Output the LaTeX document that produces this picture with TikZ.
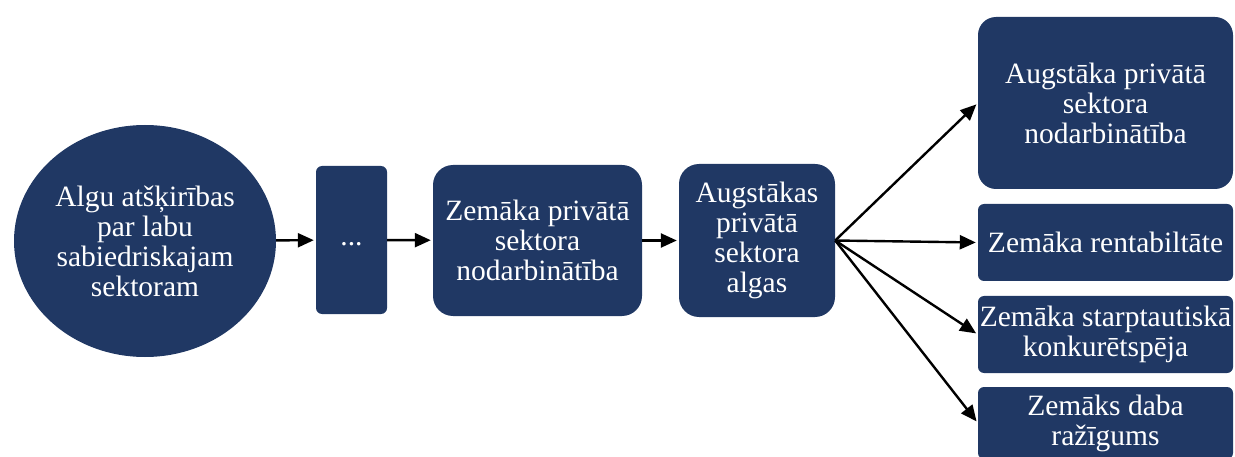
\documentclass[tikz,border=0pt]{standalone}
\usepackage{fontspec}
\setmainfont{Liberation Serif}
\usetikzlibrary{arrows.meta,shapes.geometric}
\definecolor{navy}{RGB}{32,56,100}
\begin{document}
\begin{tikzpicture}[x=1pt,y=-1pt,
  txt/.style={text=white, align=center, inner sep=0pt, font=\fontsize{29.5}{30}\selectfont},
  box/.style={txt, fill=navy, rectangle, rounded corners=#1},
  box/.default=20pt,
  conn/.style={-{Triangle[length=16pt,width=14pt]}, line width=2.4pt, shorten >=2pt}]
\useasboundingbox (0,0) rectangle (1235,457);
% left ellipse
\node[ellipse, fill=navy, minimum width=262pt, minimum height=232pt, inner sep=0pt] (e) at (145,241) {};
\node[txt] (et) at (e.center) {Algu atšķirības\\par labu\\sabiedriskajam\\sektoram};
% chain
\node[box=6pt, minimum width=71pt, minimum height=148pt] (s) at (351.5,240) {\strut...};
\node[box, minimum width=209pt, minimum height=151pt] (b2) at (537.5,240.5) {Zemāka privātā\\sektora\\nodarbinātība};
\node[box, minimum width=156pt, minimum height=153pt] (b3) at (757,240.5) {Augstākas\\privātā\\sektora\\algas};
% right boxes
\node[box=18pt, minimum width=255pt, minimum height=172pt] (r1) at (1105.5,103) {Augstāka privātā\\sektora\\nodarbinātība};
\node[box=6pt, minimum width=255pt, minimum height=77pt] (r2) at (1105.5,242.5) {Zemāka rentabiltāte};
\node[box=6pt, minimum width=255pt, minimum height=77pt] (r3) at (1105.5,334.5) {Zemāka starptautiskā\\konkurētspēja};
\node[box=6pt, minimum width=255pt, minimum height=72pt] (r4) at (1105.5,423) {Zemāks daba\\ražīgums};
% connectors
\draw[conn] (e) -- (s);
\draw[conn] (s) -- (b2);
\draw[conn] (b2) -- (b3);
\draw[conn] (b3.east) -- (r1.west);
\draw[conn] (b3.east) -- (r2.west);
\draw[conn] (b3.east) -- (r3.west);
\draw[conn] (b3.east) -- (r4.west);
\end{tikzpicture}
\end{document}
